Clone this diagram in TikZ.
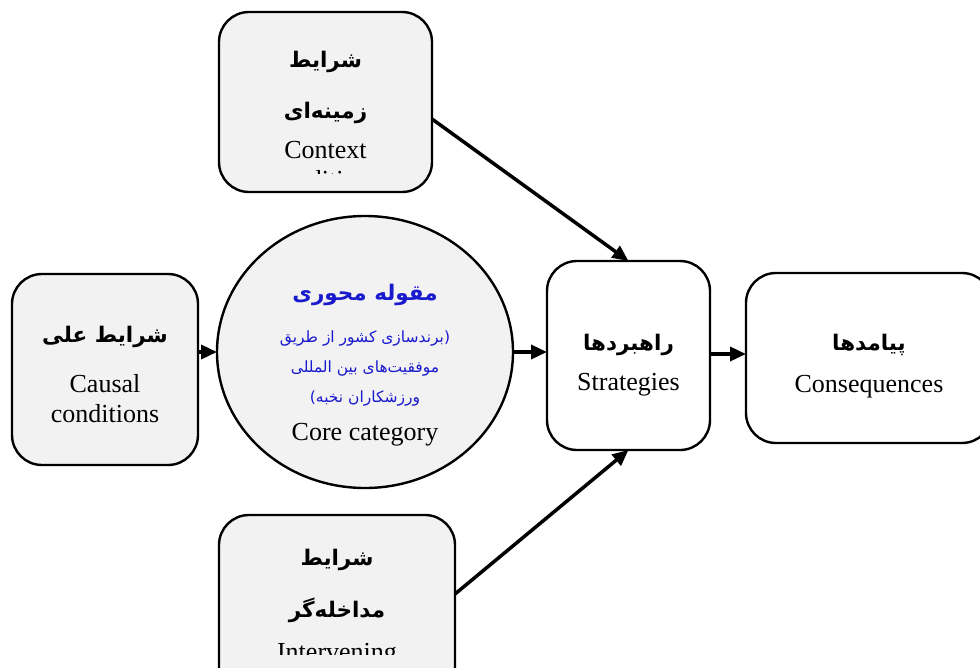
\documentclass[tikz,border=0pt]{standalone}
\usepackage{fontspec}
\setmainfont{Liberation Serif}
\newfontfamily\fa[Script=Arabic]{DejaVu Sans}
\TeXXeTstate=1
\usetikzlibrary{arrows.meta,shapes.geometric}
\definecolor{boxgray}{RGB}{242,242,242}
\definecolor{coreblue}{RGB}{25,25,205}
\begin{document}
\begin{tikzpicture}[x=1pt,y=-1pt,
 box/.style={draw=black, line width=2.4pt, rounded corners=30pt, inner sep=0pt, outer sep=0pt},
 en/.style={font=\fontsize{26}{30}\selectfont, anchor=base, inner sep=0pt},
 faB/.style={font=\fa\bfseries\fontsize{21.5}{25}\selectfont, anchor=base, inner sep=0pt},
 faS/.style={font=\fa\fontsize{15.5}{18}\selectfont, anchor=base, inner sep=0pt, text=coreblue},
 arr/.style={-{Triangle[length=16pt,width=14pt]}, line width=3.5pt}]
\useasboundingbox (0,0) rectangle (980,667);
\clip (0,0) rectangle (980,667);

% boxes
\node[box, fill=boxgray, minimum width=213pt, minimum height=180pt] (context) at (325.5,102) {};
\node[box, fill=boxgray, minimum width=186pt, minimum height=191pt] (causal) at (105,369.5) {};
\node[draw=black, line width=2.4pt, fill=boxgray, ellipse, inner sep=0pt, outer sep=0pt,
      minimum width=296pt, minimum height=272pt] (core) at (365,352) {};
\node[box, fill=white, minimum width=163pt, minimum height=189pt] (strat) at (628.5,355.5) {};
\node[box, fill=white, minimum width=246pt, minimum height=170pt] (cons) at (869,358) {};
\node[box, fill=boxgray, minimum width=236pt, minimum height=245pt] (interv) at (337,637.5) {};

% context text (clipped)
\begin{scope}
\clip (219,12) rectangle (432,173);
\node[faB] (ct1) at (325.5,67) {شرایط};
\node[faB] (ct2) at (325.5,118) {زمینه‌ای};
\node[en] (ct3) at (325.5,158) {Context};
\node[en] (ct4) at (325.5,188) {conditions};
\end{scope}

% causal text
\node[faB] (ca1) at (105,342) {\beginR شرایط علی\endR};
\node[en] (ca2) at (105,392) {Causal};
\node[en] (ca3) at (105,422) {conditions};

% core text
\node[faB, text=coreblue] (co1) at (365,300) {\beginR مقوله محوری\endR};
\node[faS] (co2) at (365,342) {\beginR (برندسازی کشور از طریق\endR};
\node[faS] (co3) at (365,372) {\beginR موفقیت‌های بین المللی\endR};
\node[faS] (co4) at (365,402) {\beginR ورزشکاران نخبه)\endR};
\node[en] (co5) at (365,440) {Core category};

% strategies / consequences
\node[faB] (st1) at (628.5,350) {راهبردها};
\node[en] (st2) at (628.5,390) {Strategies};
\node[faB] (cs1) at (869,350) {پیامدها};
\node[en] (cs2) at (869,392) {Consequences};

% intervening text (clipped)
\begin{scope}
\clip (219,515) rectangle (455,654);
\node[faB] (in1) at (337,565) {شرایط};
\node[faB] (in2) at (337,617) {مداخله‌گر};
\node[en] (in3) at (337,660) {Intervening};
\end{scope}

% connectors
\coordinate (cout) at (432,119);
\coordinate (iout) at (455,594);
\draw[arr] (causal.east |- core.center) -- (core.west);
\draw[arr] (core.east) -- (strat.west |- core.east);
\draw[arr] (strat.east |- 0,354) -- (cons.west |- 0,354);
\draw[arr] (cout) -- (strat.north);
\draw[arr] (iout) -- (strat.south);
\end{tikzpicture}
\end{document}
